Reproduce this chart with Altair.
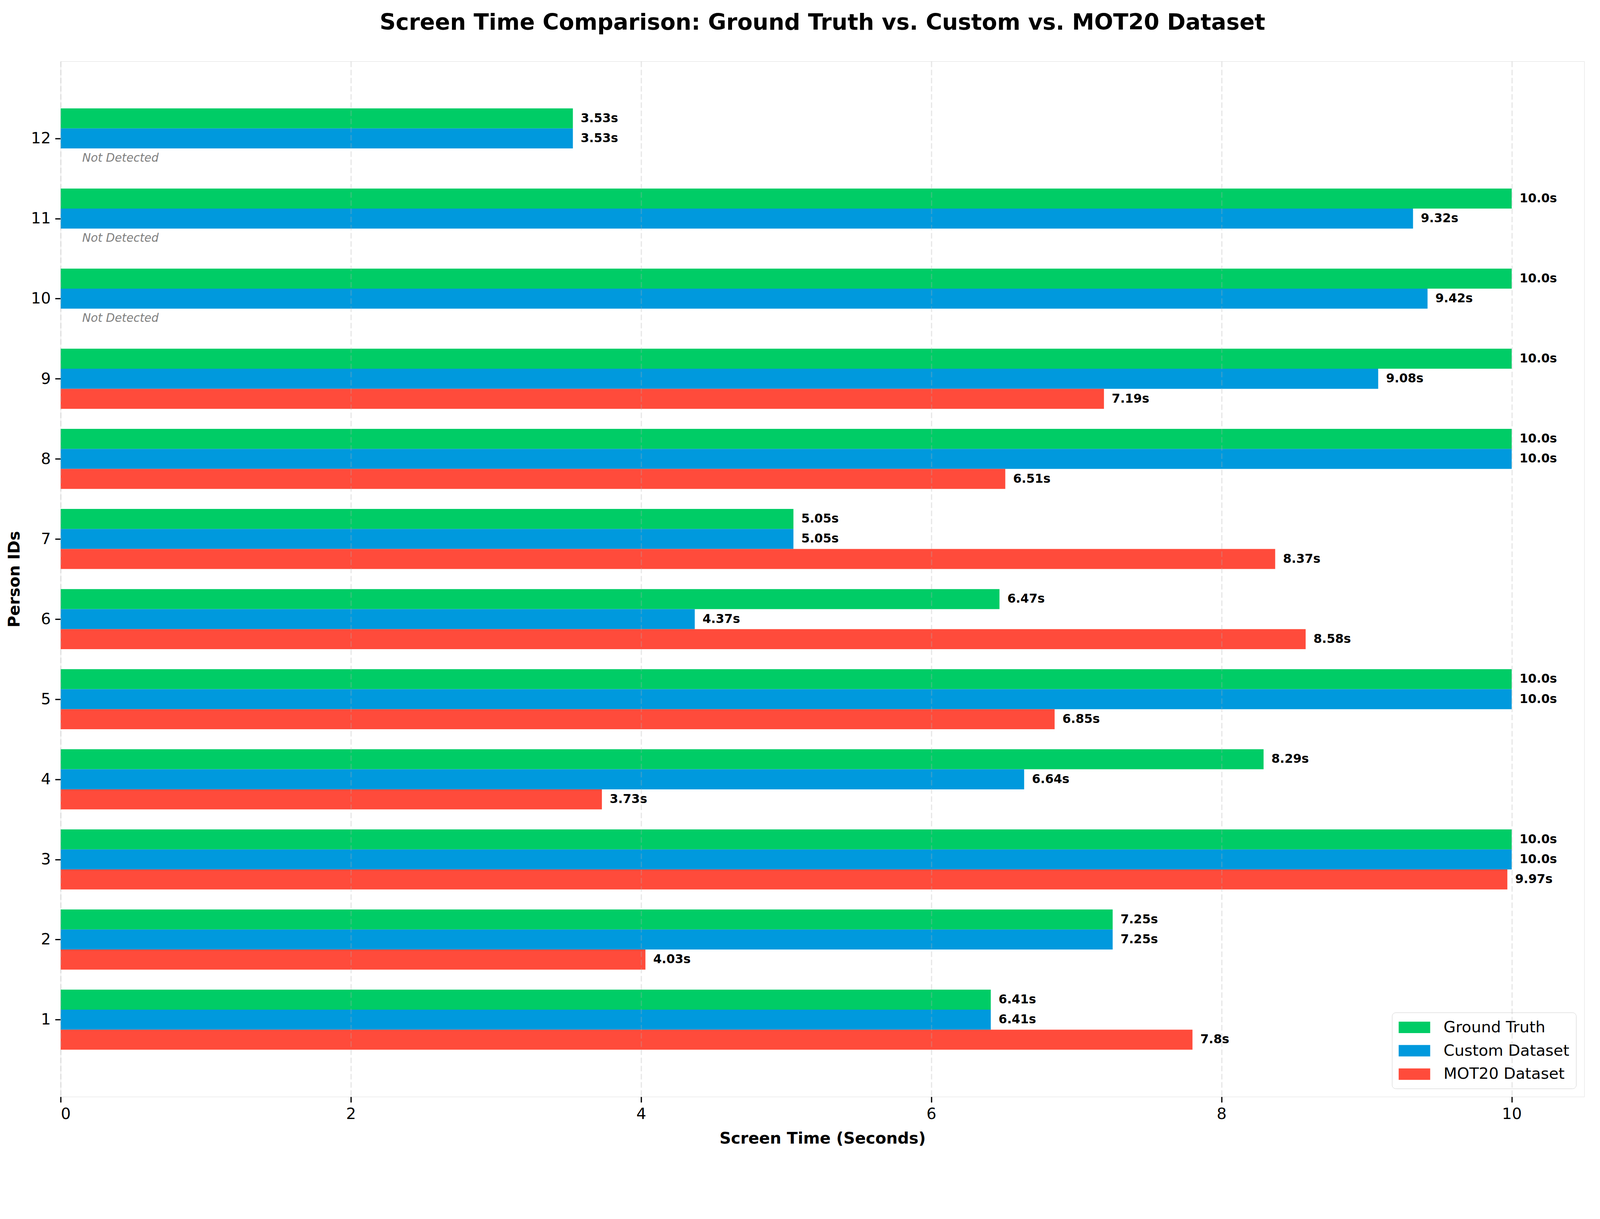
import altair as alt
import pandas as pd

person_ids = [1, 2, 3, 4, 5, 6, 7, 8, 9, 10, 11, 12]
ground_truth = [6.41, 7.25, 10.0, 8.29, 10.0, 6.47, 5.05, 10.0, 10.0, 10.0, 10.0, 3.53]
custom_dataset = [6.41, 7.25, 10.0, 6.64, 10.0, 4.37, 5.05, 10.0, 9.08, 9.42, 9.32, 3.53]
mot20_dataset = [7.8, 4.03, 9.97, 3.73, 6.85, 8.58, 8.37, 6.51, 7.19, None, None, None]

series_names = ["Ground Truth", "Custom Dataset", "MOT20 Dataset"]
series_colors = ["#00cc66", "#0099dd", "#ff4b3b"]
x_ticks = [0, 2, 4, 6, 8, 10]

# bar layout, matplotlib style: three bars of 0.25 around each id
bar_height = 0.25
bar_offsets = [bar_height, 0.0, -bar_height]

rows = []
for name, offset, values in zip(series_names, bar_offsets, [ground_truth, custom_dataset, mot20_dataset]):
    for pid, v in zip(person_ids, values):
        rows.append({
            "pid": pid,
            "series": name,
            "value": v,
            "yc": pid + offset,
            "y0": pid + offset - bar_height / 2,
            "y1": pid + offset + bar_height / 2,
            "label": f"{v}s" if v is not None else "Not Detected",
            "detected": v is not None,
        })
df = pd.DataFrame(rows)

FONT = "DejaVu Sans"

x_scale = alt.Scale(domain=[0, 10.5], nice=False, zero=False)
y_scale = alt.Scale(domain=[0.0375, 12.9625], nice=False, zero=False)

x_axis = alt.Axis(
    values=x_ticks, format="d", title="Screen Time (Seconds)",
    grid=True, gridDash=[15, 7], gridColor="#b0b0b0", gridOpacity=0.3, gridWidth=3.3,
    zindex=1, domain=False, ticks=True, tickSize=15, tickWidth=3.3, tickColor="black",
    labelFontSize=42, labelColor="black", labelPadding=12, labelFont=FONT,
    titleFontSize=43, titleFontWeight="bold", titleColor="black", titlePadding=24, titleFont=FONT,
)
y_axis = alt.Axis(
    values=person_ids, format="d", title="Person IDs",
    grid=False, domain=False, ticks=True, tickSize=15, tickWidth=3.3, tickColor="black",
    labelFontSize=42, labelColor="black", labelPadding=12, labelFont=FONT,
    titleFontSize=43, titleFontWeight="bold", titleColor="black", titlePadding=22, titleFont=FONT,
)

base = alt.Chart(df)

bars = base.transform_filter("datum.detected").mark_rect().encode(
    x=alt.X("value:Q", scale=x_scale, axis=x_axis),
    x2=alt.datum(0),
    y=alt.Y("y0:Q", scale=y_scale, axis=y_axis),
    y2="y1:Q",
    color=alt.Color(
        "series:N",
        scale=alt.Scale(domain=series_names, range=series_colors),
        title=None,
        legend=alt.Legend(
            orient="bottom-right", offset=22, padding=18,
            fillColor="rgba(255,255,255,0.8)", strokeColor="#cccccc", cornerRadius=10,
            labelFontSize=42, labelFont=FONT, labelColor="black", labelOffset=77,
            labelLimit=1000,
            symbolType="M-1,-0.7H2.86V0.7H-1Z", symbolSize=1936, symbolStrokeWidth=0,
            symbolOpacity=1, rowPadding=20,
        ),
    ),
)

labels = base.transform_filter("datum.detected").mark_text(
    align="left", baseline="middle", dx=21, fontSize=33, fontWeight="bold",
    color="black", font=FONT,
).encode(
    x=alt.X("value:Q", scale=x_scale),
    y=alt.Y("yc:Q", scale=y_scale),
    text="label:N",
)

missing = base.transform_filter("!datum.detected").mark_text(
    align="left", baseline="middle", dx=58, fontSize=31, fontStyle="italic",
    color="#7f7f7f", font=FONT,
).encode(
    x=alt.datum(0, scale=x_scale),
    y=alt.Y("yc:Q", scale=y_scale),
    text="label:N",
)

chart = (
    alt.layer(bars, labels, missing)
    .properties(
        width=4105,
        height=2790,
        autosize=alt.AutoSizeParams(type="none"),
        padding={"left": 155, "top": 80, "right": 34, "bottom": 60},
        title=alt.TitleParams(
            "Screen Time Comparison: Ground Truth vs. Custom vs. MOT20 Dataset",
            fontSize=60, fontWeight="bold", font=FONT, color="black", offset=72,
        ),
    )
    .configure_view(stroke="black", strokeWidth=3.3)
    .configure(background="white")
)

chart.save("out.html", embed_options={"renderer": "svg", "actions": False})
